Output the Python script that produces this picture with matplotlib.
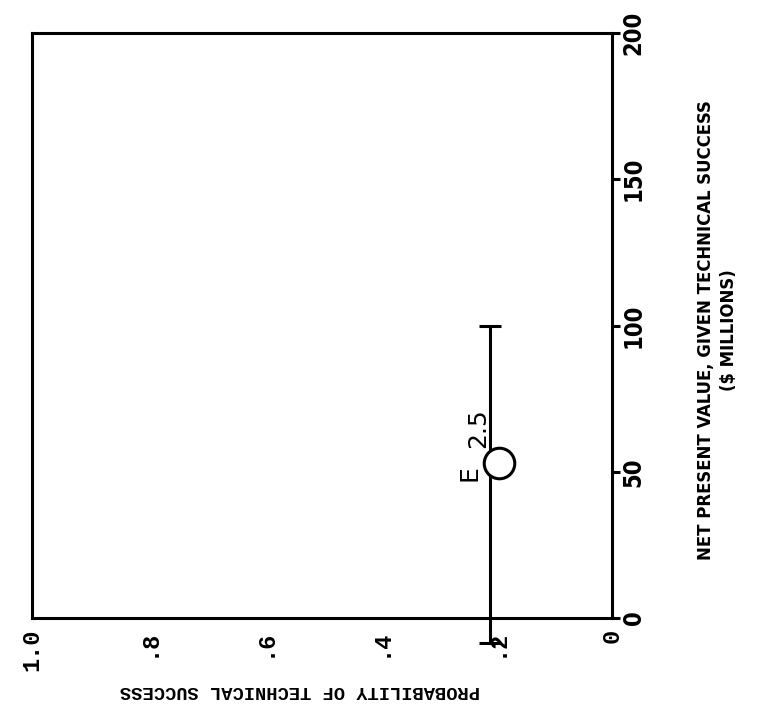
import matplotlib
matplotlib.use("Agg")
import matplotlib.pyplot as plt

# data
prob_ticks = [1.0, 0.8, 0.6, 0.4, 0.2, 0.0]
prob_labels = ["1.0", ".8", ".6", ".4", ".2", "0"]
npv_ticks = [0, 50, 100, 150, 200]
npv_labels = ["0", "50", "100", "150", "200"]

bar_prob = [0.21]
bar_low = [-8.5]
bar_high = [100]
point_prob = [0.195]
point_npv = [53]
point_name = ["E"]
point_note = ["2.5"]

fig = plt.figure(figsize=(7.57, 7.19), dpi=100)
ax = fig.add_axes([0.0423, 0.1405, 0.7662, 0.8135])

ax.set_xlim(1.0, 0.0)
ax.set_ylim(0, 200)

for s in ax.spines.values():
    s.set_linewidth(2.2)

# range bar for the project
for p, lo, hi in zip(bar_prob, bar_low, bar_high):
    mid = (lo + hi) / 2
    ax.errorbar([p], [mid], yerr=[[mid - lo], [hi - mid]], fmt="none",
                ecolor="black", elinewidth=2.2, capsize=8, capthick=2.2,
                clip_on=False, zorder=3)

ax.plot(point_prob, point_npv, "o", ms=22, mfc="white", mec="black",
        mew=2.2, clip_on=False, zorder=4)

for p, v, n, note in zip(point_prob, point_npv, point_name, point_note):
    ax.text(p + 0.05, v - 3.5, n, rotation=90, ha="center", va="center",
            fontsize=18, family="DejaVu Sans", color="black")
    ax.text(p + 0.036, v + 12, note, rotation=90, ha="center", va="center",
            fontsize=18, family="DejaVu Sans", color="black")

ax.set_xticks(prob_ticks)
ax.set_xticklabels(prob_labels, rotation=90, family="Liberation Mono",
                   fontsize=17, va="top", ha="center", fontweight="bold")
ax.tick_params(axis="x", length=0, pad=8)

ax.yaxis.tick_right()
ax.set_yticks(npv_ticks)
ax.set_yticklabels(npv_labels, rotation=90, va="center", ha="left",
                   family="DejaVu Sans", fontstretch="condensed",
                   fontsize=17, fontweight="bold")
ax.tick_params(axis="y", direction="out", length=6, width=2.2, pad=1)

fig.text(0.396, 0.040, "PROBABILITY OF TECHNICAL SUCCESS", rotation=180,
         ha="center", va="center", family="Liberation Mono",
         fontweight="bold", fontsize=13.5)
fig.text(0.948, 0.541, "NET PRESENT VALUE, GIVEN TECHNICAL SUCCESS\n($ MILLIONS)",
         rotation=90, ha="center", va="center", multialignment="center",
         family="DejaVu Sans", fontstretch="condensed", fontweight="bold",
         fontsize=13.2, linespacing=1.4)

fig.savefig("out.png", dpi=100)
